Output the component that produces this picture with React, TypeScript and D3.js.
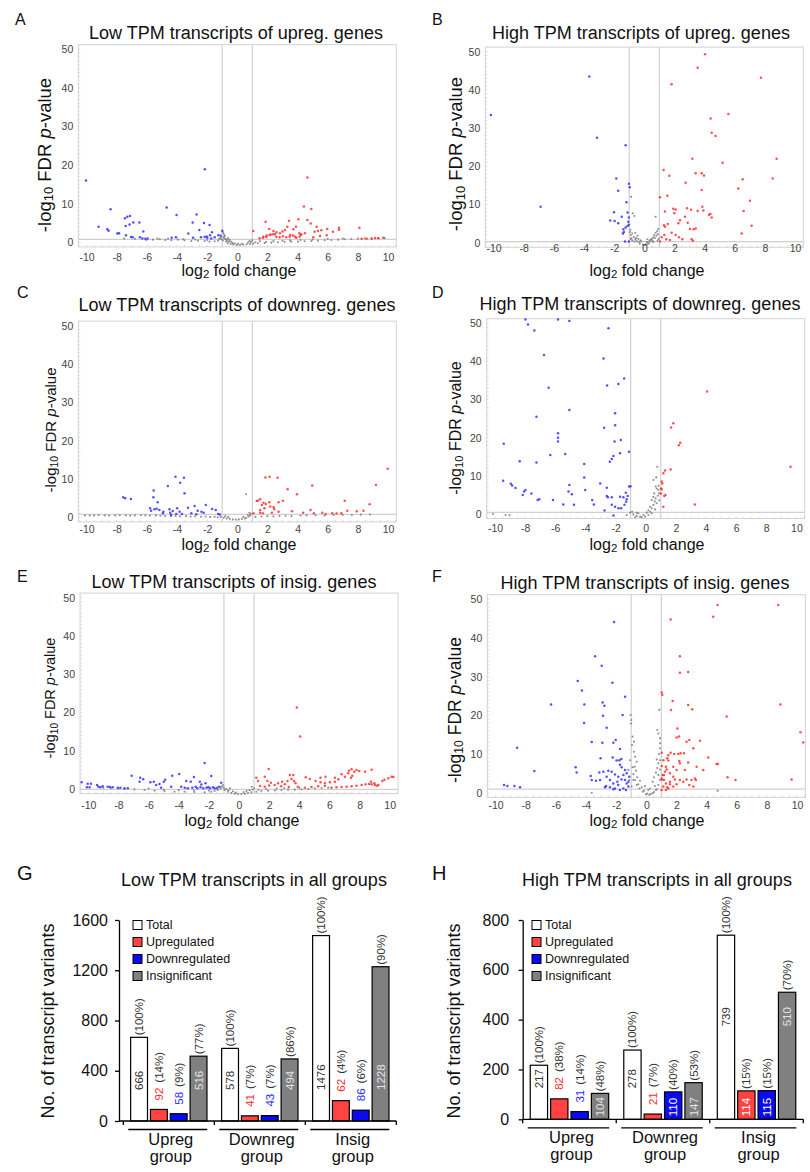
import * as d3 from 'd3';
import { useRef, useEffect } from 'react';

const FONT = "'Liberation Sans', Arial, Helvetica, sans-serif";

// volcano points: [log2 fold change, -log10 FDR p-value]
const aUp = [[1.06,2.9],[1.88,5.35],[2.12,3.45],[1.73,1.47],[1.95,1.73],[2.21,2.0],[2.5,2.07],[2.83,2.33],[3.16,3.2],[3.32,4.06],[3.43,5.6],[3.72,3.37],[3.89,4.06],[4.12,2.33],[4.42,9.3],[4.65,5.8],[4.87,4.9],[4.91,8.6],[4.05,5.96],[3.5,1.9],[3.83,1.47],[4.2,1.9],[4.49,2.33],[5.13,2.76],[5.35,2.94],[5.58,3.1],[5.97,3.45],[6.35,2.76],[6.75,3.8],[6.75,3.28],[5.27,4.06],[8.1,3.8],[8.25,0.95],[8.58,0.95],[8.92,0.95],[9.14,1.12],[9.36,1.04],[9.69,1.2],[5.04,1.3],[5.49,1.64],[5.93,1.81],[1.48,1.04],[1.7,1.2],[1.92,1.38],[2.15,1.9],[2.37,2.07],[2.59,1.47],[2.81,1.3],[3.03,1.55],[3.25,1.3],[3.47,1.47],[3.69,1.73],[3.92,1.2],[4.14,1.47],[4.25,2.07],[2.4,2.9],[2.6,2.6],[3.0,2.8],[4.65,16.8]];
const aDown = [[-10.04,16.0],[-9.2,4.06],[-8.41,8.55],[-8.63,3.37],[-8.54,3.0],[-7.96,2.3],[-7.85,2.35],[-7.46,6.2],[-7.3,6.65],[-7.12,6.8],[-7.41,4.2],[-7.15,4.6],[-6.9,5.1],[-6.5,5.1],[-7.39,1.8],[-7.05,1.4],[-6.95,1.3],[-6.24,2.8],[-6.46,1.3],[-6.3,1.0],[-6.1,0.95],[-5.95,1.0],[-4.69,9.0],[-4.03,7.1],[-2.7,7.2],[-2.96,5.1],[-2.52,3.2],[-2.21,5.0],[-2.15,18.9],[-3.25,2.3],[-1.68,2.6],[-1.84,4.5],[-1.0,3.0],[-2.94,1.2],[-2.41,1.3],[-2.17,1.4],[-1.99,1.2],[-1.81,1.8],[-1.73,1.0],[-1.5,1.3],[-1.26,1.8],[-1.1,1.7],[-4.36,1.2],[-4.07,1.3],[-2.04,1.5]];
const aNs = [[-6.04,0.6],[-5.6,0.69],[-5.15,0.78],[-4.78,0.6],[-4.38,0.52],[-3.94,0.69],[-3.5,0.52],[-3.05,0.35],[-2.61,0.43],[-2.17,0.35],[-1.84,0.17],[-1.5,0.26],[-1.28,0.43],[-1.06,0.78],[-0.91,1.2],[-0.84,1.73],[-0.73,0.17],[-0.62,-0.26],[-0.44,-0.43],[-0.27,-0.6],[-0.04,-0.69],[0.18,-0.69],[0.4,-0.6],[0.62,-0.52],[0.84,-0.43],[1.06,-0.35],[1.37,-0.26],[1.81,-0.17],[2.26,-0.09],[2.7,0.0],[3.14,0.09],[3.58,0.17],[4.03,0.17],[4.47,0.26],[4.91,0.35],[5.35,0.43],[5.8,0.52],[6.24,0.6],[6.68,0.69],[7.12,0.78],[7.57,0.86],[8.0,0.95],[8.45,1.04],[8.9,1.04],[9.34,1.12],[9.78,1.12],[-0.95,0.5],[-0.8,0.9],[-0.7,0.4],[-0.55,0.2],[-1.2,0.9],[-0.5,0.6],[-0.3,-0.2],[0.3,-0.4],[0.7,-0.1],[0.9,0.1],[1.2,0.0],[1.5,0.3],[1.9,0.1],[2.4,0.3],[3.0,0.4],[3.5,0.5],[4.2,0.6],[5.0,0.7],[-2.0,0.6],[-2.8,0.7],[-3.6,0.8],[-4.6,0.9],[-0.6,1.1],[-0.9,2.2],[-0.85,1.5],[-0.75,0.8],[0.8,0.3],[1.0,0.5],[-1.1,1.2],[-0.95,2.6],[-0.65,0.7],[-0.4,0.1],[-0.15,-0.3],[0.05,-0.4],[-7.5,1.0],[-6.8,0.9],[-5.3,1.0],[6.0,0.9],[7.0,1.0]];

const bUp = [[4.03,49.3],[3.54,45.8],[1.81,41.5],[7.74,43.2],[4.4,32.5],[5.58,33.7],[4.47,28.8],[4.73,27.9],[3.19,22.0],[5.2,20.9],[8.78,22.0],[8.52,16.8],[6.53,16.6],[3.41,18.2],[3.81,18.2],[3.96,17.6],[1.28,19.0],[1.66,17.5],[3.81,13.8],[2.74,15.7],[6.24,14.2],[1.53,12.3],[1.04,11.9],[7.01,11.0],[6.59,8.3],[1.92,8.9],[2.08,8.7],[1.37,8.2],[2.83,9.0],[3.1,8.6],[3.54,8.3],[3.85,9.4],[3.92,8.4],[4.29,7.3],[4.38,7.5],[4.47,6.6],[1.99,7.7],[2.37,5.9],[2.7,6.8],[2.88,5.2],[2.26,5.1],[1.31,4.6],[1.37,4.2],[1.55,4.9],[3.03,3.6],[3.41,3.75],[3.27,3.5],[7.12,4.45],[6.46,2.44],[1.81,2.6],[2.08,2.0],[2.3,1.4],[2.52,0.9],[1.15,1.4],[1.33,2.0],[1.46,0.9],[1.7,0.7],[3.14,0.9],[3.23,0.5],[1.04,0.3]];
const bDown = [[-10.18,33.4],[-6.88,9.4],[-3.65,43.5],[-3.14,27.5],[-1.24,25.5],[-1.86,16.8],[-1.73,13.6],[-1.19,10.6],[-2.01,8.0],[-1.11,7.9],[-1.02,15.4],[-0.97,14.5],[-1.5,6.8],[-1.02,6.6],[-1.06,5.5],[-2.26,5.8],[-1.97,5.7],[-1.73,5.1],[-1.39,3.5],[-1.24,4.0],[-1.11,4.4],[-1.02,4.7],[-1.42,2.4],[-1.35,2.8],[-1.28,0.3],[-1.02,0.3]];
const bNs = [[-0.88,12.0],[-0.77,7.7],[-0.66,7.0],[0.75,6.8],[-0.95,2.8],[-0.9,2.0],[-0.85,1.2],[-0.8,0.6],[-0.7,1.5],[-0.6,0.9],[-0.5,0.4],[-0.45,1.8],[-0.35,0.2],[-0.3,-0.3],[-0.2,0.3],[-0.1,-0.5],[0.0,-0.6],[0.1,-0.5],[0.2,-0.4],[0.25,0.1],[0.3,-0.2],[0.4,0.3],[0.45,0.8],[0.5,1.0],[0.55,0.5],[0.6,1.4],[0.65,2.0],[0.7,1.2],[0.75,2.6],[0.8,1.8],[0.85,3.0],[0.9,2.2],[0.95,1.0],[-0.65,0.3],[-0.55,1.2],[-0.25,0.6],[0.15,0.2],[0.35,0.6],[-0.92,3.4],[0.88,0.5],[-0.8,2.4],[-0.6,2.6],[-0.4,1.0],[0.2,0.9],[0.6,0.2],[-0.9,0.9],[0.92,3.6]];

const cUp = [[1.87,10.4],[2.14,10.6],[2.67,10.3],[3.34,7.3],[3.96,6.0],[4.97,8.3],[7.13,4.35],[8.78,3.4],[9.2,8.4],[9.98,12.7],[1.29,4.26],[1.51,4.7],[1.63,3.2],[1.89,3.5],[1.51,1.9],[1.8,2.35],[2.12,3.9],[2.18,2.8],[2.29,1.2],[2.45,2.1],[2.74,3.9],[3.03,4.35],[2.74,1.48],[1.51,1.2],[1.69,1.04],[1.07,1.04],[3.63,1.57],[4.37,1.2],[4.86,1.9],[5.08,1.04],[5.63,1.2],[5.86,0.87],[6.3,1.04],[6.59,0.96],[6.9,1.04],[7.3,1.74],[7.93,1.57],[8.37,1.74],[1.36,4.35],[1.74,3.8],[2.41,2.6]];
const cDown = [[-7.57,5.2],[-7.44,4.96],[-7.06,4.8],[-5.55,7.0],[-5.57,5.2],[-5.28,3.9],[-4.61,8.2],[-4.1,10.6],[-3.54,10.3],[-3.79,9.0],[-3.5,6.3],[-5.79,2.35],[-5.5,2.1],[-5.35,2.26],[-5.17,1.9],[-4.9,1.48],[-4.5,2.1],[-4.45,1.2],[-4.28,1.65],[-3.99,2.35],[-3.83,1.48],[-3.27,2.5],[-2.83,2.96],[-2.63,1.74],[-2.38,1.48],[-2.09,3.2],[-1.67,2.17],[-1.43,1.9],[-5.72,1.74],[-4.94,1.04],[-4.39,0.6],[-4.05,0.87],[-3.67,0.87],[-3.05,1.04],[-2.72,0.78],[-2.23,1.2],[-1.27,0.87],[-1.16,0.7]];
const cNs = [[-10.1,0.5],[-9.8,0.45],[-9.5,0.5],[-9.2,0.55],[-8.8,0.5],[-8.5,0.45],[-8.1,0.5],[-7.8,0.55],[-7.4,0.5],[-7.1,0.45],[-6.8,0.5],[-6.4,0.55],[-6.1,0.5],[-5.8,0.45],[-5.4,0.5],[-5.1,0.4],[-4.8,0.35],[-4.4,0.3],[-4.1,0.35],[-3.8,0.25],[-3.4,0.3],[-3.1,0.2],[-2.8,0.25],[-2.4,0.15],[-2.1,0.2],[-1.8,0.1],[-1.5,0.15],[-1.3,0.0],[-1.1,0.1],[-0.9,-0.1],[-0.7,-0.3],[-0.5,-0.4],[-0.3,-0.55],[-0.1,-0.6],[0.1,-0.55],[0.3,-0.45],[0.5,-0.3],[0.6,-0.1],[0.75,0.2],[0.85,0.5],[0.9,0.9],[0.8,1.2],[0.58,6.0],[-0.8,0.3],[-0.6,0.1],[0.4,0.1],[0.7,0.6],[1.2,0.1],[1.6,0.2],[2.0,0.3],[2.4,0.25],[2.8,0.35],[3.2,0.4],[3.6,0.3],[4.2,0.45],[4.6,0.5],[5.2,0.55],[5.8,0.5],[6.4,0.6],[7.0,0.65],[7.6,0.6],[8.2,0.7],[8.8,0.75]];

const dUp = [[4.08,32.1],[1.83,23.8],[1.68,22.7],[2.29,18.7],[2.2,18.0],[1.65,11.7],[1.28,11.4],[1.17,10.7],[9.61,12.4],[1.06,8.5],[1.1,8.0],[1.01,6.7],[1.06,6.5],[1.01,5.4],[1.32,5.0],[1.23,4.7],[1.17,1.9],[3.26,2.5]];
const dDown = [[-7.98,51.0],[-7.81,49.7],[-7.39,48.1],[-5.82,51.0],[-5.07,50.6],[-2.47,48.7],[-6.75,41.7],[-2.8,40.8],[-6.44,33.1],[-5.07,27.3],[-7.25,25.5],[-1.43,35.5],[-2.56,33.7],[-1.81,34.1],[-2.03,26.4],[-2.03,23.3],[-2.76,22.6],[-9.42,18.4],[-5.82,21.2],[-5.82,20.0],[-5.82,19.0],[-2.07,19.0],[-1.65,19.4],[-6.33,15.5],[-5.34,15.7],[-1.7,15.9],[-1.1,16.3],[-2.14,15.2],[-2.25,14.4],[-2.38,13.7],[-8.36,13.8],[-7.25,13.5],[-4.08,13.1],[-9.46,8.7],[-8.95,7.9],[-8.86,7.5],[-8.64,6.8],[-8.07,5.9],[-7.98,6.3],[-8.16,5.0],[-7.59,5.4],[-7.17,3.7],[-7.06,3.85],[-6.15,3.7],[-5.47,2.5],[-4.76,2.4],[-4.9,5.2],[-5.07,7.6],[-4.08,9.6],[-4.01,6.3],[-3.55,3.7],[-3.44,2.5],[-5.12,5.9],[-3.02,8.0],[-2.58,6.9],[-2.58,4.7],[-2.51,4.4],[-2.25,4.4],[-2.25,2.4],[-2.03,1.9],[-1.81,1.5],[-1.63,1.5],[-1.41,2.4],[-1.3,3.2],[-1.26,3.85],[-1.19,4.7],[-1.32,5.6],[-1.1,7.2],[-1.01,7.3],[-1.7,4.5],[-1.48,4.4],[-2.73,0.9],[-2.14,-0.4]];
const dNs = [[0.77,12.4],[0.51,8.9],[0.66,7.2],[0.73,6.7],[0.84,6.3],[0.57,5.4],[0.51,4.5],[0.66,4.1],[0.4,3.7],[0.29,1.9],[0.51,2.4],[0.18,1.0],[0.07,0.35],[-0.15,-0.26],[-0.37,-0.7],[-0.6,-0.5],[-0.82,-0.1],[-1.04,0.35],[-1.26,-0.26],[-0.7,-0.87],[-0.49,0.17],[-0.26,-0.87],[-0.04,-0.7],[0.18,-0.26],[0.4,0.17],[0.62,1.2],[0.73,2.8],[0.88,5.4],[0.4,1.5],[-10.14,0],[-9.3,-0.26],[-9.04,-0.26],[0.6,3.3],[0.8,4.8],[0.3,0.6],[-0.9,0.6],[-0.6,0.3],[0.85,7.4],[0.7,9.6],[0.9,3.6]];

const eUp = [[3.84,21.3],[4.06,13.7],[1.97,5.2],[1.15,2.96],[1.26,2.09],[1.71,3.22],[1.88,2.09],[2.11,1.65],[2.37,1.05],[2.59,1.48],[2.86,1.9],[3.04,1.22],[3.22,2.09],[3.37,3.66],[3.6,3.66],[3.48,2.6],[3.66,2.09],[3.75,1.48],[4.43,3.05],[4.7,2.6],[5.08,2.09],[5.41,1.74],[5.7,1.48],[6.03,1.74],[6.36,1.9],[6.59,2.53],[5.41,2.96],[5.74,3.22],[6.36,2.96],[6.81,3.83],[7.03,3.22],[7.25,4.09],[7.43,2.96],[7.52,3.48],[7.65,4.53],[7.8,4.96],[7.47,5.14],[7.29,4.79],[7.98,4.7],[8.36,4.53],[8.8,5.05],[8.76,1.9],[8.98,1.48],[9.25,1.05],[9.51,2.09],[9.65,2.44],[9.91,2.79],[10.13,3.22],[10.24,3.14],[4.37,0.35],[4.81,0.52],[5.25,0.7],[5.7,0.78],[6.14,0.35],[6.47,0.44],[6.81,0.52],[7.14,0.61],[7.47,0.7],[7.8,0.87],[8.14,1.05],[8.4,1.22],[8.63,1.31],[8.8,1.22],[9.02,1.05],[9.16,0.87],[1.4,0.8],[1.7,0.6],[2.0,0.9],[2.8,0.7],[3.3,0.5],[3.9,0.6]];
const eDown = [[-10.44,1.74],[-10.04,1.39],[-9.82,1.39],[-10.09,0.44],[-9.91,0.44],[-9.42,1.05],[-9.33,0.61],[-9.2,0.44],[-9.05,0.7],[-8.71,0.61],[-8.56,0.52],[-8.38,0.44],[-8.05,0.35],[-7.87,0.35],[-7.6,0.17],[-7.38,0.17],[-7.12,3.48],[-6.56,2.96],[-6.36,2.53],[-6.6,1.9],[-5.88,1.74],[-5.65,1.9],[-5.5,1.05],[-5.28,1.3],[-5.17,0.35],[-4.99,1.9],[-4.9,2.44],[-4.43,3.48],[-3.97,3.92],[-3.5,2.09],[-2.99,3.14],[-2.28,6.8],[-2.22,1.48],[-1.84,3.4],[-1.18,1.65],[-3.2,1.9],[-4.5,0.61],[-2.6,1.9],[-2.5,1.2],[-3.83,0.61],[-3.6,0.35],[-3.4,0.17],[-3.1,0.35],[-2.88,0.61],[-2.77,0.17],[-2.55,0.44],[-2.37,0.17],[-2.15,0.35],[-2.04,0.52],[-1.93,0.17],[-1.73,0.44],[-1.62,0.17],[-1.44,0.35],[-1.3,0.61]];
const eNs = [[-7.6,0],[-6.94,-0.09],[-6.27,-0.26],[-5.61,-0.44],[-4.94,-0.52],[-4.28,-0.7],[-3.61,-0.7],[-2.95,-0.78],[-2.28,-0.87],[-1.84,-0.7],[-1.62,-0.52],[-1.4,-0.26],[-1.22,0.17],[-1.13,0.61],[-1.06,1.05],[-0.95,-0.26],[-0.73,-0.7],[-0.51,-1.05],[-0.29,-1.22],[-0.07,-1.3],[0.16,-1.3],[0.38,-1.22],[0.6,-1.05],[0.82,-0.87],[1.15,-0.7],[1.49,-0.52],[1.93,-0.44],[2.37,-0.35],[2.82,-0.26],[3.26,-0.17],[3.7,-0.17],[4.15,-0.09],[4.59,0],[5.03,0.17],[5.48,0.26],[5.92,0.35],[-1.0,0.3],[-0.85,0.0],[-0.7,-0.3],[-0.6,0.2],[-0.4,-0.6],[-0.2,-0.9],[0.3,-0.8],[0.5,-0.5],[0.7,-0.3],[0.9,-0.2],[1.0,0.2],[0.85,0.6],[1.3,-0.2],[1.8,0.0],[2.5,0.1],[-3.0,-0.4],[-4.0,-0.3],[-5.0,-0.2],[-6.0,0.1],[-2.0,-0.4],[-1.5,0.0],[3.0,0.2],[4.0,0.3],[-8.0,0.1],[-8.5,0.2],[-9.0,0.3]];

const fUp = [[4.73,48.5],[8.75,48.5],[1.61,44.8],[4.44,45.5],[2.23,35.3],[2.23,31.0],[2.78,31.2],[1.75,23.7],[1.64,21.4],[2.78,22.7],[3.05,21.6],[5.33,19.7],[8.9,22.8],[10.23,15.6],[10.41,13.0],[9.64,3.4],[5.39,4.0],[5.92,3.3],[1.02,25.9],[1.06,25.3],[2.06,16.6],[2.17,14.5],[2.01,14.3],[2.67,13.2],[2.85,13.6],[3.56,13.4],[3.12,11.5],[1.02,10.3],[1.46,9.7],[1.61,10.3],[1.86,10.0],[2.12,10.0],[2.28,10.2],[2.5,10.2],[1.13,8.4],[1.46,8.3],[1.39,8.9],[2.19,8.2],[2.23,7.6],[2.78,7.8],[4.11,9.1],[4.66,7.4],[4.75,7.4],[3.34,6.7],[3.78,5.9],[1.02,6.9],[1.3,6.7],[1.35,6.0],[1.24,5.4],[1.08,4.6],[1.02,3.7],[1.17,3.3],[1.3,2.4],[1.39,1.4],[1.13,1.6],[1.04,3.4],[1.17,4.6],[1.57,5.0],[1.79,4.1],[1.9,3.4],[1.57,2.8],[2.01,2.2],[2.23,3.3],[2.45,2.8],[2.67,3.4],[3.0,3.3],[3.23,3.7],[3.29,3.3],[2.85,2.0],[3.12,1.6],[1.79,1.6],[1.57,2.2],[1.3,0.7],[1.46,1.1],[1.02,0.7],[1.79,6.7],[2.01,5.9],[2.56,5.9]];
const fDown = [[-9.44,2.0],[-9.22,1.7],[-8.75,1.7],[-8.38,1.4],[-8.57,11.6],[-7.43,5.6],[-6.32,22.8],[-4.55,28.9],[-4.27,26.4],[-4.11,22.8],[-4.13,18.0],[-3.4,35.3],[-2.96,32.8],[-2.25,28.4],[-2.14,44.1],[-2.9,23.3],[-2.78,22.5],[-2.87,19.9],[-2.63,16.8],[-1.57,20.1],[-1.41,24.8],[-3.62,13.1],[-2.92,12.9],[-2.19,12.9],[-2.03,13.6],[-1.75,11.3],[-3.03,8.9],[-4.69,6.6],[-4.62,5.2],[-2.23,9.1],[-1.97,8.3],[-1.79,8.4],[-1.66,8.7],[-3.69,4.3],[-3.62,3.3],[-3.34,3.1],[-3.12,5.2],[-2.85,5.4],[-2.52,5.7],[-2.3,5.4],[-2.08,4.7],[-2.63,4.1],[-2.41,3.3],[-2.19,2.4],[-2.67,1.7],[-2.41,1.4],[-2.08,1.1],[-1.86,2.0],[-1.64,3.4],[-1.52,4.6],[-1.41,3.3],[-1.3,2.4],[-1.19,1.6],[-1.92,2.8],[-1.64,6.6],[-1.3,5.0],[-1.13,4.1],[-1.52,1.1],[-1.35,0.7],[-1.75,0.7],[-2.19,0.9],[-2.74,1.4],[-3.07,3.3],[-1.86,4.1],[-1.19,2.8],[-1.41,5.9],[-1.75,7.2]];
const fNs = [[-1.04,20.1],[-0.99,18.8],[-1.02,17.9],[-0.91,14.5],[-0.82,13.2],[-0.95,12.3],[-0.75,9.3],[-0.64,8.0],[-0.77,6.7],[-0.69,5.7],[-0.86,4.8],[-0.6,4.0],[-0.42,3.1],[-0.53,2.2],[-0.31,1.4],[-0.15,0.5],[0.07,-0.2],[0.29,-0.3],[0.51,0.2],[0.69,0.9],[0.57,1.7],[0.42,2.8],[0.51,4.0],[0.64,5.2],[0.73,6.4],[0.8,7.6],[0.69,8.6],[0.84,10.0],[0.91,11.5],[0.91,14.1],[0.8,15.3],[0.73,16.2],[0.86,21.4],[-1.08,8.4],[-1.19,5.9],[-1.13,3.3],[-0.97,1.6],[-0.75,3.3],[-0.64,2.0],[-0.46,1.1],[-0.24,0.26],[-0.02,-0.43],[0.2,-0.6],[0.42,-0.17],[0.64,0.7],[0.8,2.0],[0.91,3.3],[0.8,4.6],[0.24,1.1],[-0.09,1.7],[0.13,0.7],[-0.86,3.3],[-0.91,6.6],[0.91,6.0],[0.91,8.4],[-0.82,10.6],[0.91,12.8],[4.73,0.5],[-3.62,0.0]];

const xTicks = [-10, -8, -6, -4, -2, 0, 2, 4, 6, 8, 10];
const yTicks = [0, 10, 20, 30, 40, 50];

// bar charts
const groups = ['Upreg', 'Downreg', 'Insig'];
const series = ['Total', 'Upregulated', 'Downregulated', 'Insignificant'];

const lowTotal = [666, 578, 1476];
const lowUp = [92, 41, 162];
const lowDown = [58, 43, 86];
const lowInsig = [516, 494, 1228];
// the Insig group's upregulated bar carries the printed label "62"
const lowUpText = ['92', '41', '62'];
const lowPct = [
  ['(100%)', '(14%)', '(9%)', '(77%)'],
  ['(100%)', '(7%)', '(7%)', '(86%)'],
  ['(100%)', '(4%)', '(6%)', '(90%)'],
];
const lowTicks = [0, 400, 800, 1200, 1600];

const highTotal = [217, 278, 739];
const highUp = [82, 21, 114];
const highDown = [31, 110, 115];
const highInsig = [104, 147, 510];
const highPct = [
  ['(100%)', '(38%)', '(14%)', '(48%)'],
  ['(100%)', '(7%)', '(40%)', '(53%)'],
  ['(100%)', '(15%)', '(15%)', '(70%)'],
];
const highTicks = [0, 200, 400, 600, 800];

const PX = 15.07; // px per log2 unit in the volcano panels

const panels = [
  { id: 'A', title: 'Low TPM transcripts of upreg. genes', up: aUp, down: aDown, ns: aNs, x0: 237.3, y0: 242.3, y50: 49.3, titleX: 236, titleY: 33, letterX: 15, letterY: 25, tickY: 257, labX: 239, labY: 269.5, ylabX: 43.5, ylabY: 155, ylabSize: 18.5, hline: 0.78 },
  { id: 'B', title: 'High TPM transcripts of upreg. genes', up: bUp, down: bDown, ns: bNs, x0: 644.3, y0: 242.7, y50: 51.7, titleX: 641, titleY: 33, letterX: 432, letterY: 25, tickY: 248.5, labX: 647, labY: 269.5, ylabX: 455, ylabY: 154, ylabSize: 18.5, hline: 0.3 },
  { id: 'C', title: 'Low TPM transcripts of downreg. genes', up: cUp, down: cDown, ns: cNs, x0: 237.3, y0: 517.3, y50: 325.7, titleX: 237, titleY: 305, letterX: 17, letterY: 298, tickY: 529, labX: 239, labY: 544, ylabX: 50, ylabY: 430, ylabSize: 15, hline: 0.78 },
  { id: 'D', title: 'High TPM transcripts of downreg. genes', up: dUp, down: dDown, ns: dNs, x0: 645.7, y0: 514, y50: 323.3, titleX: 640, titleY: 304, letterX: 432, letterY: 298, tickY: 528, labX: 647, labY: 544, ylabX: 455, ylabY: 428, ylabSize: 16, hline: 0.44 },
  { id: 'E', title: 'Low TPM transcripts of insig. genes', up: eUp, down: eDown, ns: eNs, x0: 239, y0: 789, y50: 597.7, titleX: 234, titleY: 582, letterX: 17, letterY: 582, tickY: 805, labX: 242, labY: 819.5, ylabX: 50, ylabY: 698, ylabSize: 14.5, hline: -0.1 },
  { id: 'F', title: 'High TPM transcripts of insig. genes', up: fUp, down: fDown, ns: fNs, x0: 646.3, y0: 792.7, y50: 599.3, titleX: 645, titleY: 583, letterX: 432, letterY: 582, tickY: 805, labX: 647, labY: 819.5, ylabX: 455, ylabY: 710, ylabSize: 17.5, hline: 0.95 },
];

const charts = [
  { letter: 'G', title: 'Low TPM transcripts in all groups', values: [lowTotal, lowUp, lowDown, lowInsig], texts: [lowTotal.map(String), lowUpText, lowDown.map(String), lowInsig.map(String)], pct: lowPct, ticks: lowTicks, yMax: 1600, y0: 1121, yTop: 920, axisX: 119, bandStart: 123.3, bandEnd: 396.3, tallOffset: 31, tickPad: 7, legendX: 133, titleX: 254, letterX: 17, ylabX: 47.5 },
  { letter: 'H', title: 'High TPM transcripts in all groups', values: [highTotal, highUp, highDown, highInsig], texts: [highTotal.map(String), highUp.map(String), highDown.map(String), highInsig.map(String)], pct: highPct, ticks: highTicks, yMax: 800, y0: 1119.3, yTop: 920, axisX: 522.7, bandStart: 522.7, bandEnd: 803.3, tallOffset: 93, tickPad: 9.5, legendX: 532, titleX: 657, letterX: 432, ylabX: 454 },
];

const barFill = ['#ffffff', '#ff4343', '#0a0af2', '#808080'];
const inkOutside = ['#333', '#ff2a2a', '#2a2aff', '#333'];
const inkInside = ['#333', '#ffffff', '#ffffff', '#e4e4e4'];

function drawVolcano(svg: any, p: any) {
  const k = (p.y0 - p.y50) / 50;
  const x = d3.scaleLinear().domain([-10.55, 10.55]).range([p.x0 - 10.55 * PX, p.x0 + 10.55 * PX]);
  const y = d3.scaleLinear().domain([-1.2, 51.2]).range([p.y0 + 1.2 * k, p.y0 - 51.2 * k]);
  const [xl, xr] = x.range();
  const [yb, yt] = y.range();
  const g = svg.append('g').attr('font-family', FONT);

  g.append('rect').attr('x', xl).attr('y', yt).attr('width', xr - xl).attr('height', yb - yt)
    .attr('fill', 'none').attr('stroke', '#d2d2d2').attr('stroke-width', 1);

  // faint minor ticks along the frame
  g.append('g').selectAll('line').data(d3.range(0, 51, 1)).join('line')
    .attr('x1', xl).attr('x2', xl + 2).attr('y1', (d: number) => y(d)).attr('y2', (d: number) => y(d))
    .attr('stroke', '#cfcfcf').attr('stroke-width', 0.7);
  g.append('g').selectAll('line').data(d3.range(-10.5, 10.6, 0.5)).join('line')
    .attr('x1', (d: number) => x(d)).attr('x2', (d: number) => x(d)).attr('y1', yb).attr('y2', yb - 2)
    .attr('stroke', '#cfcfcf').attr('stroke-width', 0.7);

  [-1, 1].forEach(v => {
    g.append('line').attr('x1', x(v)).attr('x2', x(v)).attr('y1', yt).attr('y2', yb)
      .attr('stroke', '#d0d0d0').attr('stroke-width', 1.2);
  });
  g.append('line').attr('x1', xl).attr('x2', xr).attr('y1', y(p.hline)).attr('y2', y(p.hline))
    .attr('stroke', '#d0d0d0').attr('stroke-width', 1.2);

  const dots = (data: number[][], color: string, r: number) =>
    g.append('g').selectAll('circle').data(data).join('circle')
      .attr('cx', (d: number[]) => x(d[0])).attr('cy', (d: number[]) => y(Math.min(d[1], 51)))
      .attr('r', r).attr('fill', color).attr('fill-opacity', 0.85);
  dots(p.ns, '#7c7c7c', 1.05);
  dots(p.down, '#3333ff', 1.25);
  dots(p.up, '#ff3333', 1.25);

  const ya = g.append('g').attr('transform', `translate(${xl},0)`)
    .call(d3.axisLeft(y).tickValues(yTicks).tickFormat((d: any) => String(d)).tickSize(0).tickPadding(5));
  ya.select('.domain').remove();
  ya.selectAll('text').attr('font-size', 10.5).attr('fill', '#444').attr('font-family', FONT);

  const xa = g.append('g').attr('transform', `translate(0,${p.tickY})`)
    .call(d3.axisBottom(x).tickValues(xTicks).tickFormat((d: any) => String(d)).tickSize(0).tickPadding(0));
  xa.select('.domain').remove();
  xa.selectAll('text').attr('y', 0).attr('dy', '0.35em').attr('font-size', 10.5).attr('fill', '#444').attr('font-family', FONT);

  g.append('text').attr('x', p.letterX).attr('y', p.letterY).attr('font-size', 16).attr('fill', '#111').text(p.id);
  g.append('text').attr('x', p.titleX).attr('y', p.titleY).attr('text-anchor', 'middle')
    .attr('dominant-baseline', 'central').attr('font-size', 18).attr('fill', '#111').text(p.title);

  const xl2 = g.append('text').attr('x', p.labX).attr('y', p.labY).attr('text-anchor', 'middle')
    .attr('dominant-baseline', 'central').attr('font-size', 16).attr('fill', '#111');
  xl2.append('tspan').text('log');
  xl2.append('tspan').text('2').attr('font-size', 11.5).attr('dy', 4);
  xl2.append('tspan').text(' fold change').attr('dy', -4);

  const s = p.ylabSize;
  const yl = g.append('text').attr('transform', `translate(${p.ylabX},${p.ylabY}) rotate(-90)`)
    .attr('text-anchor', 'middle').attr('dominant-baseline', 'central').attr('font-size', s).attr('fill', '#111');
  yl.append('tspan').text('-log');
  yl.append('tspan').text('10').attr('font-size', s * 0.7).attr('dy', s * 0.25);
  yl.append('tspan').text(' FDR ').attr('dy', -s * 0.25);
  yl.append('tspan').text('p').attr('font-style', 'italic');
  yl.append('tspan').text('-value');
}

function drawBars(svg: any, c: any) {
  const y = d3.scaleLinear().domain([0, c.yMax]).range([c.y0, c.yTop]);
  const gx = d3.scaleBand().domain(groups).range([c.bandStart, c.bandEnd]).padding(0);
  const bx = d3.scaleBand().domain(series).range([0, gx.bandwidth()]).paddingInner(0.15).paddingOuter(0.37);
  const rows = groups.flatMap((grp, i) => series.map((s, j) => ({
    grp, s, j, v: c.values[j][i], text: c.texts[j][i], pct: c.pct[i][j],
  })));
  const g = svg.append('g').attr('font-family', FONT);

  g.append('g').selectAll('rect').data(rows).join('rect')
    .attr('x', (d: any) => (gx(d.grp) as number) + (bx(d.s) as number))
    .attr('y', (d: any) => y(d.v))
    .attr('width', bx.bandwidth())
    .attr('height', (d: any) => c.y0 - y(d.v))
    .attr('fill', (d: any) => barFill[d.j])
    .attr('stroke', '#000').attr('stroke-width', 1.2);

  rows.forEach((d: any) => {
    const cx = (gx(d.grp) as number) + (bx(d.s) as number) + bx.bandwidth() / 2;
    const top = y(d.v);
    const h = c.y0 - top;
    const inside = h >= 24;
    const start = inside ? c.y0 - (h > 100 ? c.tallOffset : h > 45 ? 31 : 3) : top - 9;
    const lab = g.append('text').attr('transform', `translate(${cx},${start}) rotate(-90)`)
      .attr('dominant-baseline', 'central').attr('font-size', 11.5)
      .attr('fill', inside ? inkInside[d.j] : inkOutside[d.j]).text(d.text);
    const len = lab.node().getComputedTextLength();
    const pStart = inside ? top - 2 : start - len - 5;
    g.append('text').attr('transform', `translate(${cx},${pStart}) rotate(-90)`)
      .attr('dominant-baseline', 'central').attr('font-size', 11.5).attr('fill', '#333').text(d.pct);
  });

  const ya = g.append('g').attr('transform', `translate(${c.axisX},0)`)
    .call(d3.axisLeft(y).tickValues(c.ticks).tickFormat((d: any) => String(d)).tickSize(4).tickSizeOuter(0).tickPadding(c.tickPad));
  ya.selectAll('path,line').attr('stroke', '#000').attr('stroke-width', 1.3);
  ya.selectAll('text').attr('font-size', 16).attr('fill', '#111').attr('font-family', FONT);

  g.append('line').attr('x1', c.axisX).attr('x2', c.bandEnd).attr('y1', c.y0).attr('y2', c.y0)
    .attr('stroke', '#000').attr('stroke-width', 1.3);
  const bounds = groups.map(grp => gx(grp) as number).concat([c.bandEnd]);
  g.append('g').selectAll('line').data(bounds).join('line')
    .attr('x1', (d: number) => d).attr('x2', (d: number) => d).attr('y1', c.y0).attr('y2', c.y0 + 4)
    .attr('stroke', '#000').attr('stroke-width', 1.3);

  groups.forEach(grp => {
    const g0 = gx(grp) as number;
    const cxg = g0 + gx.bandwidth() / 2;
    g.append('line').attr('x1', g0 + 5).attr('x2', g0 + gx.bandwidth() - 7).attr('y1', c.y0 + 8.5).attr('y2', c.y0 + 8.5)
      .attr('stroke', '#000').attr('stroke-width', 1.3);
    g.append('text').attr('x', cxg + 2).attr('y', c.y0 + 24).attr('text-anchor', 'middle')
      .attr('font-size', 16.5).attr('fill', '#111').text(grp);
    g.append('text').attr('x', cxg + 2).attr('y', c.y0 + 41).attr('text-anchor', 'middle')
      .attr('font-size', 16.5).attr('fill', '#111').text('group');
  });

  series.forEach((s, j) => {
    const ry = 925 + j * 17;
    g.append('rect').attr('x', c.legendX).attr('y', ry - 4.5).attr('width', 9).attr('height', 9)
      .attr('fill', barFill[j]).attr('stroke', '#000').attr('stroke-width', 1);
    g.append('text').attr('x', c.legendX + 13).attr('y', ry).attr('dominant-baseline', 'central')
      .attr('font-size', 12.5).attr('fill', '#111').text(s);
  });

  g.append('text').attr('x', c.titleX).attr('y', 880).attr('text-anchor', 'middle').attr('dominant-baseline', 'central')
    .attr('font-size', 18).attr('fill', '#111').text(c.title);
  g.append('text').attr('x', c.letterX).attr('y', 880).attr('font-size', 20).attr('fill', '#111').text(c.letter);
  g.append('text').attr('transform', `translate(${c.ylabX},1021) rotate(-90)`).attr('text-anchor', 'middle')
    .attr('dominant-baseline', 'central').attr('font-size', 18).attr('fill', '#111').text('No. of transcript variants');
}

export default function App() {
  const ref = useRef<SVGSVGElement>(null);

  useEffect(() => {
    const svg = d3.select(ref.current);
    svg.selectAll('*').remove();
    svg.append('rect').attr('width', 810).attr('height', 1172).attr('fill', '#fff');
    panels.forEach(p => drawVolcano(svg, p));
    charts.forEach(c => drawBars(svg, c));
  }, []);

  return (
    <svg ref={ref} width={810} height={1172}
      style={{ position: 'absolute', left: 0, top: 0, display: 'block' }} />
  );
}
